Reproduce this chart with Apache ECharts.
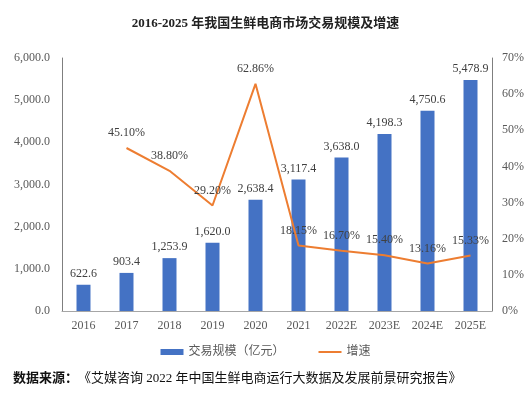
<!DOCTYPE html>
<html><head><meta charset="utf-8">
<script src="https://cdn.jsdelivr.net/npm/echarts@6/dist/echarts.min.js"></script>
<style>html,body{margin:0;padding:0;background:#fff}#c{width:531px;height:394px}</style>
</head><body><div id="c"></div>
<script>
var categories = ['2016','2017','2018','2019','2020','2021','2022E','2023E','2024E','2025E'];
var scaleValues = [622.6, 903.4, 1253.9, 1620.0, 2638.4, 3117.4, 3638.0, 4198.3, 4750.6, 5478.9];
var growthValues = [null, 45.10, 38.80, 29.20, 62.86, 18.15, 16.70, 15.40, 13.16, 15.33];
var seriesNames = ['交易规模（亿元）', '增速'];
var titleText = '2016-2025 年我国生鲜电商市场交易规模及增速';
var sourceLead = '数据来源：';
var sourceText = '《艾媒咨询 2022 年中国生鲜电商运行大数据及发展前景研究报告》';

var serif = '"Liberation Serif","Noto Sans CJK SC",serif';
var chart = echarts.init(document.getElementById('c'));
chart.setOption({
  animation: false,
  title: [{
    text: titleText, left: 'center', top: 12,
    textStyle: {fontFamily: serif, fontSize: 13, fontWeight: 'bold', color: '#222'}
  }, {
    text: '{b|' + sourceLead + '}{n|' + sourceText + '}', left: 8, top: 367,
    textStyle: {fontFamily: serif, fontSize: 13, color: '#111',
      rich: {b: {fontFamily: serif, fontSize: 13, fontWeight: 'bold', color: '#111'},
             n: {fontFamily: serif, fontSize: 13, fontWeight: 'normal', color: '#111'}}}
  }],
  legend: {
    top: 341, left: 'center', itemGap: 34, itemWidth: 23, itemHeight: 6,
    textStyle: {fontFamily: serif, fontSize: 12, color: '#595959'},
    data: [{name: seriesNames[0], icon: 'rect'},
           {name: seriesNames[1], icon: 'path://M0,0L23,0L23,2L0,2Z'}]
  },
  grid: {left: 62, right: 39, top: 58, bottom: 83, containLabel: false},
  xAxis: {
    type: 'category', data: categories,
    axisLine: {lineStyle: {color: '#a6a6a6'}},
    axisTick: {show: false},
    axisLabel: {fontFamily: serif, fontSize: 12, color: '#595959', margin: 9}
  },
  yAxis: [{
    type: 'value', min: 0, max: 6000, interval: 1000,
    axisLine: {show: true, lineStyle: {color: '#7f7f7f'}},
    axisTick: {show: false}, splitLine: {show: false},
    axisLabel: {fontFamily: serif, fontSize: 12, color: '#595959', margin: 12,
      formatter: function(v){return v.toLocaleString('en-US',{minimumFractionDigits:1,maximumFractionDigits:1});}}
  }, {
    type: 'value', min: 0, max: 70, interval: 10, position: 'right',
    axisLine: {show: true, lineStyle: {color: '#7f7f7f'}},
    axisTick: {show: false}, splitLine: {show: false},
    axisLabel: {fontFamily: serif, fontSize: 12, color: '#595959', margin: 10, formatter: '{value}%'}
  }],
  series: [{
    name: seriesNames[0], type: 'bar', data: scaleValues, barWidth: 14,
    itemStyle: {color: '#4472C4'},
    label: {show: true, position: 'top', distance: 5, fontFamily: serif, fontSize: 12, color: '#404040',
      formatter: function(p){return p.value.toLocaleString('en-US',{minimumFractionDigits:1,maximumFractionDigits:1});}}
  }, {
    name: seriesNames[1], type: 'line', yAxisIndex: 1, data: growthValues,
    symbol: 'none', lineStyle: {color: '#ED7D31', width: 2}, itemStyle: {color: '#ED7D31'}
  }, {
    name: 'growthLabels', type: 'scatter', yAxisIndex: 1, data: growthValues,
    symbolSize: 0, z: 5, silent: true, itemStyle: {opacity: 1, color: '#ED7D31'},
    label: {show: true, position: 'top', distance: 9, fontFamily: serif, fontSize: 12, color: '#404040', opacity: 1,
      formatter: function(p){return p.value == null ? '' : p.value.toFixed(2) + '%';}}
  }]
});
</script></body></html>
